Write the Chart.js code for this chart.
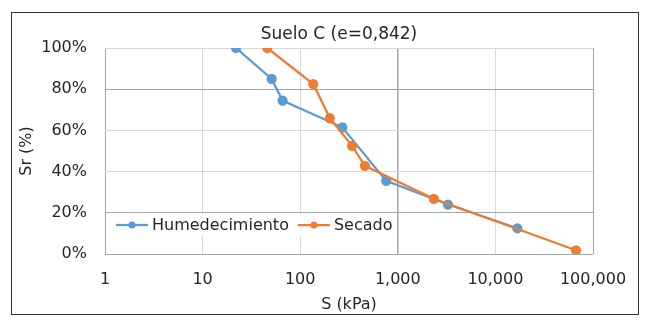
<!DOCTYPE html>
<html>
<head>
<meta charset="utf-8">
<script src="https://cdn.jsdelivr.net/npm/chart.js@4/dist/chart.umd.min.js"></script>
<style>
  html, body { margin: 0; padding: 0; background: #fff; }
  canvas { display: block; }
</style>
</head>
<body>
<canvas id="chart" width="650" height="322"></canvas>
<script>
// chart data
const chartTitle = 'Suelo C (e=0,842)';
const xAxisTitle = 'S (kPa)';
const yAxisTitle = 'Sr (%)';
const seriesNames = ['Humedecimiento', 'Secado'];
const xTicks = [1, 10, 100, 1000, 10000, 100000];
const yTicks = [0, 20, 40, 60, 80, 100];

const humSuction = [22, 51, 66, 270, 760, 3270, 16800];
const humSr = [100, 85, 74.5, 61.5, 35.5, 24, 12.5];
const secSuction = [46, 136, 201, 340, 460, 2340, 67000];
const secSr = [100, 82.5, 66, 52.5, 42.8, 26.8, 1.8];

const blue = '#5b9bd5';
const orange = '#ed7d31';
const textColor = '#262626';
const fontFamily = "'DejaVu Sans', sans-serif";

function thousands(v) {
	return String(v).replace(/\B(?=(\d{3})+(?!\d))/g, ',');
}

function toPoints(xs, ys) {
	return xs.map(function (x, i) { return { x: x, y: ys[i] }; });
}

// darker lines in the scanned figure
const xDark = [1, 1000, 100000];
const yDark = [0, 20, 80];

const framePlugin = {
	id: 'frame',
	beforeDraw: function (chart) {
		const ctx = chart.ctx;
		ctx.save();
		ctx.fillStyle = '#fff';
		ctx.fillRect(0, 0, chart.width, chart.height);
		ctx.strokeStyle = '#333';
		ctx.lineWidth = 1;
		ctx.strokeRect(11.5, 12.5, 627, 302);
		ctx.restore();
	},
	afterDraw: function (chart) {
		const ctx = chart.ctx;
		const area = chart.chartArea;
		ctx.save();
		// title
		ctx.font = '17px ' + fontFamily;
		ctx.fillStyle = textColor;
		ctx.textAlign = 'center';
		ctx.textBaseline = 'middle';
		ctx.fillText(chartTitle, 339, 35);

		// legend inside the plot
		ctx.font = '16px ' + fontFamily;
		const cy = area.bottom - 29;
		let x = area.left + 11;
		const widths = seriesNames.map(function (n) { return ctx.measureText(n).width; });
		const total = widths.reduce(function (a, b) { return a + b; }, 0) + seriesNames.length * 36 + 9;
		ctx.fillStyle = '#fff';
		ctx.fillRect(area.left + 4, cy - 11, total + 4, 22);
		chart.data.datasets.forEach(function (ds, i) {
			ctx.strokeStyle = ds.borderColor;
			ctx.lineWidth = ds.borderWidth;
			ctx.beginPath();
			ctx.moveTo(x, cy);
			ctx.lineTo(x + 32, cy);
			ctx.stroke();
			ctx.fillStyle = ds.borderColor;
			ctx.beginPath();
			ctx.arc(x + 16, cy, 3.5, 0, Math.PI * 2);
			ctx.fill();
			ctx.fillStyle = textColor;
			ctx.textAlign = 'left';
			ctx.fillText(seriesNames[i], x + 36, cy + 1);
			x += 36 + widths[i] + 9;
		});
		ctx.restore();
	}
};

new Chart(document.getElementById('chart'), {
	type: 'line',
	data: {
		datasets: [{
			label: seriesNames[0],
			data: toPoints(humSuction, humSr),
			borderColor: blue,
			backgroundColor: blue,
			borderWidth: 2.25,
			pointRadius: 4,
			pointBackgroundColor: blue,
			pointBorderColor: blue,
			fill: false,
			tension: 0,
			order: 1
		}, {
			label: seriesNames[1],
			data: toPoints(secSuction, secSr),
			borderColor: orange,
			backgroundColor: orange,
			borderWidth: 2.25,
			pointRadius: 4,
			pointBackgroundColor: orange,
			pointBorderColor: orange,
			fill: false,
			tension: 0,
			order: 0
		}]
	},
	options: {
		responsive: false,
		animation: false,
		devicePixelRatio: 1,
		layout: { padding: { left: 11, right: 57, top: 48, bottom: 7 } },
		plugins: {
			legend: { display: false },
			title: { display: false },
			tooltip: { enabled: false }
		},
		scales: {
			x: {
				type: 'logarithmic',
				min: xTicks[0],
				max: xTicks[xTicks.length - 1],
				afterBuildTicks: function (scale) {
					scale.ticks = xTicks.map(function (v) { return { value: v }; });
				},
				afterFit: function (scale) { scale.height = 61; },
				border: { display: false },
				grid: {
					drawTicks: false,
					color: function (c) {
						return c.tick && xDark.indexOf(c.tick.value) >= 0 ? '#a6a6a6' : '#d9d9d9';
					},
					lineWidth: function (c) {
						return c.tick && c.tick.value === 1000 ? 1.5 : 1;
					}
				},
				ticks: {
					autoSkip: false,
					maxRotation: 0,
					padding: 16,
					color: textColor,
					font: { family: fontFamily, size: 16 },
					callback: function (v) { return thousands(v); }
				},
				title: {
					display: true,
					text: xAxisTitle,
					color: textColor,
					font: { family: fontFamily, size: 16 },
					padding: { top: 0, bottom: 1 }
				}
			},
			y: {
				type: 'linear',
				min: yTicks[0],
				max: yTicks[yTicks.length - 1],
				afterBuildTicks: function (scale) {
					scale.ticks = yTicks.map(function (v) { return { value: v }; });
				},
				afterFit: function (scale) { scale.width = 94; },
				border: { display: false },
				grid: {
					drawTicks: false,
					color: function (c) {
						return c.tick && yDark.indexOf(c.tick.value) >= 0 ? '#a6a6a6' : '#d9d9d9';
					}
				},
				ticks: {
					padding: 18,
					color: textColor,
					font: { family: fontFamily, size: 16 },
					callback: function (v) { return v + '%'; }
				},
				title: {
					display: true,
					text: yAxisTitle,
					color: textColor,
					font: { family: fontFamily, size: 16 },
					padding: { top: 6, bottom: 0 }
				}
			}
		}
	},
	plugins: [framePlugin]
});
</script>
</body>
</html>
